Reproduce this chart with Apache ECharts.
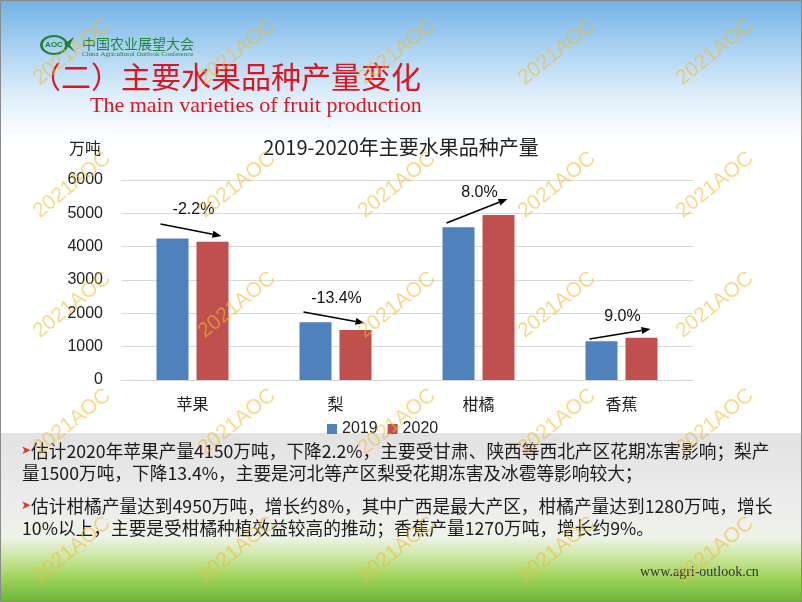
<!DOCTYPE html>
<html><head><meta charset="utf-8">
<script src="https://cdn.jsdelivr.net/npm/echarts@6/dist/echarts.min.js"></script>
<style>html,body{margin:0;padding:0;background:#fff}#c{width:802px;height:602px}</style>
</head><body><div id="c"></div>
<script>
// ---- data ----
const categories = ['苹果', '梨', '柑橘', '香蕉'];
const seriesNames = ['2019', '2020'];
const v2019 = [4243, 1732, 4583, 1165];
const v2020 = [4150, 1500, 4950, 1270];
const changeLabels = ['-2.2%', '-13.4%', '8.0%', '9.0%'];
const arrowFrom = [4680, 2040, 4710, 1230];
const arrowTo = [4320, 1710, 5430, 1530];
const labelAt = [5100, 2430, 5610, 1890];
const yMax = 6000, yStep = 1000;
const chartTitle = '2019-2020年主要水果品种产量';
const unitLabel = '万吨';
const pageTitle = '（二）主要水果品种产量变化';
const pageSubtitle = 'The main varieties of fruit production';
const notes = [
  '估计2020年苹果产量4150万吨，下降2.2%，主要受甘肃、陕西等西北产区花期冻害影响；梨产',
  '量1500万吨，下降13.4%，主要是河北等产区梨受花期冻害及冰雹等影响较大；',
  '估计柑橘产量达到4950万吨，增长约8%，其中广西是最大产区，柑橘产量达到1280万吨，增长',
  '10%以上，主要是受柑橘种植效益较高的推动；香蕉产量1270万吨，增长约9%。'
];
const bulletLines = [true, false, true, false];
const watermark = '2021AOC';
const siteText = 'www.agri-outlook.cn';

const chart = echarts.init(document.getElementById('c'));
const option = {
  animation: false,
  backgroundColor: 'transparent',
  grid: { left: 121, right: 109, top: 180, bottom: 222 },
  legend: {
    data: seriesNames, left: 322, top: 416, itemWidth: 10, itemHeight: 10, itemGap: 10,
    icon: 'rect',
    textStyle: { fontFamily: 'Liberation Sans', fontSize: 16, color: '#222' }
  },
  xAxis: {
    type: 'category', data: categories,
    axisLine: { lineStyle: { color: '#d9d9d9' } },
    axisTick: { show: false },
    axisLabel: { margin: 16, fontSize: 16, color: '#222', fontFamily: 'Noto Sans CJK SC' }
  },
  yAxis: {
    type: 'value', min: 0, max: yMax, interval: yStep,
    axisLabel: { margin: 18, fontSize: 16, color: '#222', fontFamily: 'Liberation Sans', formatter: v => String(v) },
    splitLine: { lineStyle: { color: '#d9d9d9' } },
    axisLine: { show: false }, axisTick: { show: false }
  },
  series: [
    { name: seriesNames[0], type: 'bar', data: v2019, barWidth: 32, barGap: '25%', itemStyle: { color: '#4f81bd' } },
    { name: seriesNames[1], type: 'bar', data: v2020, barWidth: 32, itemStyle: { color: '#c0504d' } }
  ]
};
chart.setOption(option);

const g = [];
// backgrounds
g.push({ type: 'rect', z: -100, shape: { x: 0, y: 0, width: 802, height: 602 }, style: { fill: '#ffffff' } });
g.push({ type: 'rect', z: -99, shape: { x: 0, y: 0, width: 802, height: 140 },
  style: { fill: new echarts.graphic.LinearGradient(0, 0, 0, 1, [
    { offset: 0, color: '#6fb1e6' }, { offset: 0.35, color: '#acd3f2' }, { offset: 0.7, color: '#e0effa' }, { offset: 1, color: '#ffffff' }]) } });
g.push({ type: 'rect', z: -99, shape: { x: 0, y: 433, width: 802, height: 169 },
  style: { fill: new echarts.graphic.LinearGradient(0, 0, 0, 1, [
    { offset: 0, color: '#e2e2e2' }, { offset: 0.45, color: '#ededed' }, { offset: 0.62, color: '#eef2e8' },
    { offset: 0.72, color: '#cfe8a8' }, { offset: 0.85, color: '#a2d45e' }, { offset: 1, color: '#6cb636' }]) } });
g.push({ type: 'rect', z: 200, shape: { x: 0.5, y: 0.5, width: 801, height: 601 }, style: { fill: 'none', stroke: '#8a8a8a', lineWidth: 1 } });

// header logo
g.push({ type: 'circle', z: 10, x: 54, y: 45, scaleX: 1.4, scaleY: 1, shape: { cx: 0, cy: 0, r: 9 }, style: { fill: 'none', stroke: '#1f7f3a', lineWidth: 2 } });
g.push({ type: 'text', z: 11, style: { x: 54, y: 45, text: 'AOC', fill: '#1f7f3a', font: 'bold 8px Liberation Sans', align: 'center', verticalAlign: 'middle' } });
g.push({ type: 'polygon', z: 10, shape: { points: [[64, 44], [74, 37], [70, 45], [75, 52]] }, style: { fill: '#1f7f3a' } });
g.push({ type: 'text', z: 10, style: { x: 82, y: 44, text: '中国农业展望大会', fill: '#1f8a3a', font: '14px "Noto Sans CJK SC"', verticalAlign: 'middle' } });
g.push({ type: 'text', z: 10, style: { x: 82, y: 54, text: 'China Agricultural Outlook Conference', fill: '#2a7a3a', font: '7px "Liberation Serif"', verticalAlign: 'middle' } });
g.push({ type: 'text', z: 10, style: { x: 31, y: 77, text: pageTitle, fill: '#e0141e', font: '30px "Noto Sans CJK SC"', verticalAlign: 'middle' } });
g.push({ type: 'text', z: 10, style: { x: 90, y: 106, text: pageSubtitle, fill: '#e0141e', font: '22px "Liberation Serif"', verticalAlign: 'middle' } });

// chart title & unit
g.push({ type: 'text', z: 10, style: { x: 401, y: 147, text: chartTitle, fill: '#222', font: '20px "Noto Sans CJK SC"', align: 'center', verticalAlign: 'middle' } });
g.push({ type: 'text', z: 10, style: { x: 69, y: 148, text: unitLabel, fill: '#222', font: '16px "Noto Sans CJK SC"', verticalAlign: 'middle' } });

// arrows and change labels
for (let i = 0; i < categories.length; i++) {
  const p1 = chart.convertToPixel({ gridIndex: 0 }, [i, arrowFrom[i]]);
  const p2 = chart.convertToPixel({ gridIndex: 0 }, [i, arrowTo[i]]);
  const pl = chart.convertToPixel({ gridIndex: 0 }, [i, labelAt[i]]);
  const x1 = p1[0] - 32, y1 = p1[1], x2 = p2[0] + 29, y2 = p2[1];
  const ang = Math.atan2(y2 - y1, x2 - x1);
  const L = 9, W = 3.5;
  const bx = x2 - L * Math.cos(ang), by = y2 - L * Math.sin(ang);
  g.push({ type: 'line', z: 20, shape: { x1: x1, y1: y1, x2: bx, y2: by }, style: { stroke: '#000', lineWidth: 1.5 } });
  g.push({ type: 'polygon', z: 20, shape: { points: [[x2, y2], [bx - W * Math.sin(ang), by + W * Math.cos(ang)], [bx + W * Math.sin(ang), by - W * Math.cos(ang)]] }, style: { fill: '#000' } });
  g.push({ type: 'text', z: 20, style: { x: pl[0] + 1, y: pl[1], text: changeLabels[i], fill: '#111', font: '16px "Liberation Sans"', align: 'center', verticalAlign: 'middle' } });
}

// notes
const lineY = [451, 473, 506, 528];
for (let i = 0; i < notes.length; i++) {
  if (bulletLines[i]) g.push({ type: 'text', z: 10, style: { x: 21, y: lineY[i], text: '➤', fill: '#e8321e', font: '12px "DejaVu Sans"', verticalAlign: 'middle' } });
  g.push({ type: 'text', z: 10, style: { x: bulletLines[i] ? 31 : 22, y: lineY[i], text: notes[i], fill: '#1a1a1a', font: '17.7px "Noto Sans CJK SC"', verticalAlign: 'middle' } });
}
g.push({ type: 'text', z: 10, style: { x: 640, y: 572, text: siteText, fill: '#333', font: '14px "Liberation Serif"', verticalAlign: 'middle' } });

// watermarks
const wmX = [72, 237, 397, 557, 715];
const wmY = [52, 185, 305, 422, 550];
for (const y of wmY) for (const x of wmX) {
  g.push({ type: 'text', z: 150, x: x, y: y, rotation: 0.68, style: { x: 0, y: 0, text: watermark, fill: 'rgba(242,185,50,0.55)', font: '21px "Liberation Sans"', align: 'center', verticalAlign: 'middle' } });
}
chart.setOption({ graphic: g });
</script></body></html>
